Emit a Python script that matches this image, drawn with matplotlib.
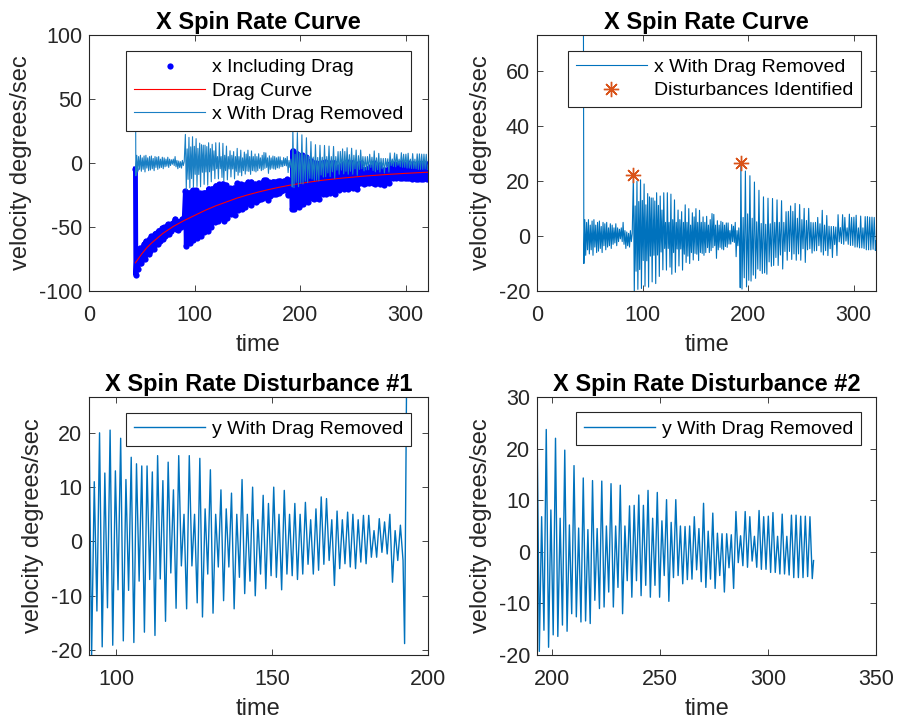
"""
X spin rate curves: raw rate with drag, drag curve, drag removed,
and the two identified disturbances zoomed in.
"""

import numpy as np
import matplotlib.pyplot as plt

plt.rcParams['font.family'] = ['Liberation Sans', 'DejaVu Sans']
plt.rcParams['axes.unicode_minus'] = False

# ---- data (turning points of the signal) ----
# launch spike at the start of the record
spike_t = [44.0]
spike_v = [73.3]

# calm part before the first disturbance (trough, peak, trough, ...)
calm_t0, calm_t1 = 44.4, 90.2
calm_lo = [-10, -7, -5, -6.5, -5, -7, -4, -6, -5.5, -4.5, -6, -3.5, -5, -4,
           -3.5, -4.5, -3, -2.5, -3.5, -2, -1, -2, -3, -4.5, -3.5, -4, -2]
calm_hi = [6, 5, 6, 4, 5.5, 6, 4, 5, 5.5, 3.5, 5, 4.5, 5, 3, 4.5, 4, 3,
           4.5, 3, 2.5, 3, 5, 2, 1.5, 1, 2, 1]

# disturbance #1 (peak, trough, peak, ...)
dist1_t0, dist1_t1 = 91.3, 192.0
dist1_hi = [22.3, 11, 20, 12.6, 20.5, 13, 19, 11.4, 15.5, 14.3,
            13.9, 13.9, 12.8, 15.8, 11.2, 14.6, 9.5, 15.8, 5, 15.8,
            5, 15.3, 6, 13.2, 5, 9.5, 6, 8.9, 5, 11.4,
            5, 10, 4, 8.5, 7, 10, 5, 9.4, 5, 7,
            5, 7.2, 4, 6, 8.2, 7.9, 4, 5.6, 4, 5.4,
            5, 4, 4.8, 4.8, 2, 4.2, 3.6, 5, 2, 3]
dist1_lo = [-20.9, -12.8, -19.4, -12.2, -19.1, -8.9, -18.3, -9, -18.6, -7.3,
            -16.7, -7, -17.3, -6.9, -14.7, -5.8, -12.3, -4.5, -12.4, -4.5,
            -11.3, -13.9, -6, -13.2, -4.7, -10.9, -4.7, -12.4, -6.6, -9.6,
            -7.3, -10, -6, -8.7, -6.3, -6.6, -8.9, -6, -6.3, -7,
            -6, -4.2, -6, -5.3, -4.2, -3.5, -8.1, -5, -4.1, -4.7,
            -5, -3.8, -4.1, -2.9, -2.9, -2, -2.3, -7.5, -3.5, -3.5]
drop_t, drop_v = 192.5, -18.8

# disturbance #2 (peak, trough, peak, ...)
dist2_t0, dist2_t1 = 193.1, 320.5
dist2_hi = [26.6, 6.8, 23.7, 8.1, 22, 6.5, 19.7, 5.2, 16.7, 4.6,
            14.3, 4.3, 13.8, 4.5, 13.7, 5, 13.2, 5, 12.9, 5,
            8.9, 9, 11, 9, 11.9, 6.5, 11.5, 6, 10.1, 5.7,
            10.1, 5, 4.9, 5, 6.8, 4.5, 9.4, 4, 7.5, 3.6,
            3.5, 3.5, 3.3, 7.8, 3.1, 7.8, 6.8, 3, 8, 6.8,
            6.9, 7.6, 3, 7.3, 3, 7.1, 7.1, 6.9, 6.9, 6.8]
dist2_lo = [-19.3, -15.2, -18.5, -16.1, -16.4, -14.2, -15.4, -12, -12.6, -13.6,
            -13.4, -13.9, -9.4, -11, -10.7, -7.8, -10.7, -6.9, -12, -5.6,
            -8.8, -5.6, -8.5, -6.5, -8.8, -6.5, -8.8, -4.6, -9.6, -5,
            -4.6, -6.2, -5.4, -5.3, -3.5, -5.8, -6.9, -5.3, -7.1, -4.6,
            -7.8, -3.1, -7.1, -2.1, -2.7, -3, -1.8, -3, -3.4, -3.4,
            -4, -4, -4.3, -4.3, -4.5, -5, -5, -5, -4.8, -5.2]
end_t, end_v = 321.1, -1.7

# fitted drag curve
drag_t = [44, 50, 55, 60, 70, 80, 90, 100, 110, 120, 130, 140, 150, 160,
          170, 180, 190, 200, 220, 240, 260, 280, 300, 321.1]
drag_v = [-78, -71, -66, -62, -55, -49.5, -45, -41, -37, -33.5, -30.5, -27.5,
          -25, -22.8, -20.8, -19, -17.4, -16, -13.6, -11.8, -10.3, -9.1,
          -8.1, -7.2]


def zigzag(t0, t1, first, second):
    vals = np.column_stack([first, second]).ravel()
    return np.linspace(t0, t1, len(vals)), vals


calm_t, calm_v = zigzag(calm_t0, calm_t1, calm_lo, calm_hi)
d1_t, d1_v = zigzag(dist1_t0, dist1_t1, dist1_hi, dist1_lo)
d2_t, d2_v = zigzag(dist2_t0, dist2_t1, dist2_hi, dist2_lo)

t = np.concatenate([spike_t, calm_t, d1_t, [drop_t], d2_t, [end_t]])
x_removed = np.concatenate([spike_v, calm_v, d1_v, [drop_v], d2_v, [end_v]])
x_drag = x_removed + np.interp(t, drag_t, drag_v)

dist_t = [dist1_t0, dist2_t0]
dist_v = [dist1_hi[0], dist2_hi[0]]

# ---- styling ----
BLUE = '#0072BD'
ORANGE = '#D95319'
DARK = '#262626'


def style_axes(ax):
    ax.tick_params(direction='in', top=True, right=True, length=4, width=0.6,
                   colors=DARK, labelsize=15.5)
    ax.tick_params(axis='x', pad=10)
    ax.tick_params(axis='y', pad=5)
    for sp in ax.spines.values():
        sp.set_color(DARK)
        sp.set_linewidth(0.8)
    ax.set_xlabel('time', fontsize=17, color=DARK, labelpad=6)
    ax.set_ylabel('velocity degrees/sec', fontsize=17, color=DARK, labelpad=5)


def add_legend(ax, anchor):
    leg = ax.legend(loc='upper right', bbox_to_anchor=anchor, borderaxespad=0,
                    fontsize=14, fancybox=False, framealpha=1, edgecolor=DARK,
                    handlelength=3.65, handletextpad=0.35, borderpad=0.4,
                    labelspacing=0.3, numpoints=1)
    leg.get_frame().set_linewidth(0.8)
    return leg


fig = plt.figure(figsize=(8.98, 7.24), dpi=100)
ax_tl = fig.add_axes([0.0991, 0.5981, 0.3775, 0.3536])
ax_tr = fig.add_axes([0.5980, 0.5981, 0.3775, 0.3536])
ax_bl = fig.add_axes([0.0991, 0.0953, 0.3775, 0.3564])
ax_br = fig.add_axes([0.5980, 0.0953, 0.3775, 0.3564])

# ===== top left: raw, drag and corrected =====
ax_tl.plot(t, x_drag, color='#0000FF', lw=3.5, solid_joinstyle='round')
ax_tl.plot(t, x_drag, 'o', color='#0000FF', ms=4.5, mew=0, ls='none',
           label='x Including Drag')
ax_tl.plot(drag_t, drag_v, color='#FF0000', lw=0.8, label='Drag Curve')
ax_tl.plot(t, x_removed, color='#1a7fc4', lw=0.8, label='x With Drag Removed')
ax_tl.set_xlim(0, 321.1)
ax_tl.set_ylim(-100, 100)
ax_tl.set_xticks([0, 100, 200, 300])
ax_tl.set_yticks([-100, -50, 0, 50, 100])
ax_tl.set_title('X Spin Rate Curve', fontsize=17, fontweight='bold', pad=4)
style_axes(ax_tl)
add_legend(ax_tl, (0.950, 0.9375))

# ===== top right: corrected with disturbances =====
ax_tr.plot(t, x_removed, color=BLUE, lw=0.8, label='x With Drag Removed')
ax_tr.plot(dist_t, dist_v, ls='none', marker=(8, 2, 0), ms=11, mew=1.0,
           color=ORANGE, label='Disturbances Identified')
ax_tr.set_xlim(0, 321.1)
ax_tr.set_ylim(-20, 73.3)
ax_tr.set_xticks([0, 100, 200, 300])
ax_tr.set_yticks([-20, 0, 20, 40, 60])
ax_tr.set_title('X Spin Rate Curve', fontsize=17, fontweight='bold', pad=4)
style_axes(ax_tr)
add_legend(ax_tr, (0.955, 0.939))

# ===== bottom left: disturbance 1 =====
m1 = (t >= dist1_t0) & (t <= dist2_t0)
ax_bl.plot(t[m1], x_removed[m1], color=BLUE, lw=1.0, label='y With Drag Removed')
ax_bl.set_xlim(dist1_t0, 200)
ax_bl.set_ylim(-20.9, 26.6)
ax_bl.set_xticks([100, 150, 200])
ax_bl.set_yticks([-20, -10, 0, 10, 20])
ax_bl.set_title('X Spin Rate Disturbance #1', fontsize=17, fontweight='bold', pad=4)
style_axes(ax_bl)
add_legend(ax_bl, (0.950, 0.939))

# ===== bottom right: disturbance 2 =====
m2 = t >= dist2_t0
ax_br.plot(t[m2], x_removed[m2], color=BLUE, lw=1.0, label='y With Drag Removed')
ax_br.set_xlim(dist2_t0, 350)
ax_br.set_ylim(-20, 30)
ax_br.set_xticks([200, 250, 300, 350])
ax_br.set_yticks([-20, -10, 0, 10, 20, 30])
ax_br.set_title('X Spin Rate Disturbance #2', fontsize=17, fontweight='bold', pad=4)
style_axes(ax_br)
add_legend(ax_br, (0.955, 0.941))

plt.savefig('out.png', dpi=100, facecolor='white')
plt.close()
